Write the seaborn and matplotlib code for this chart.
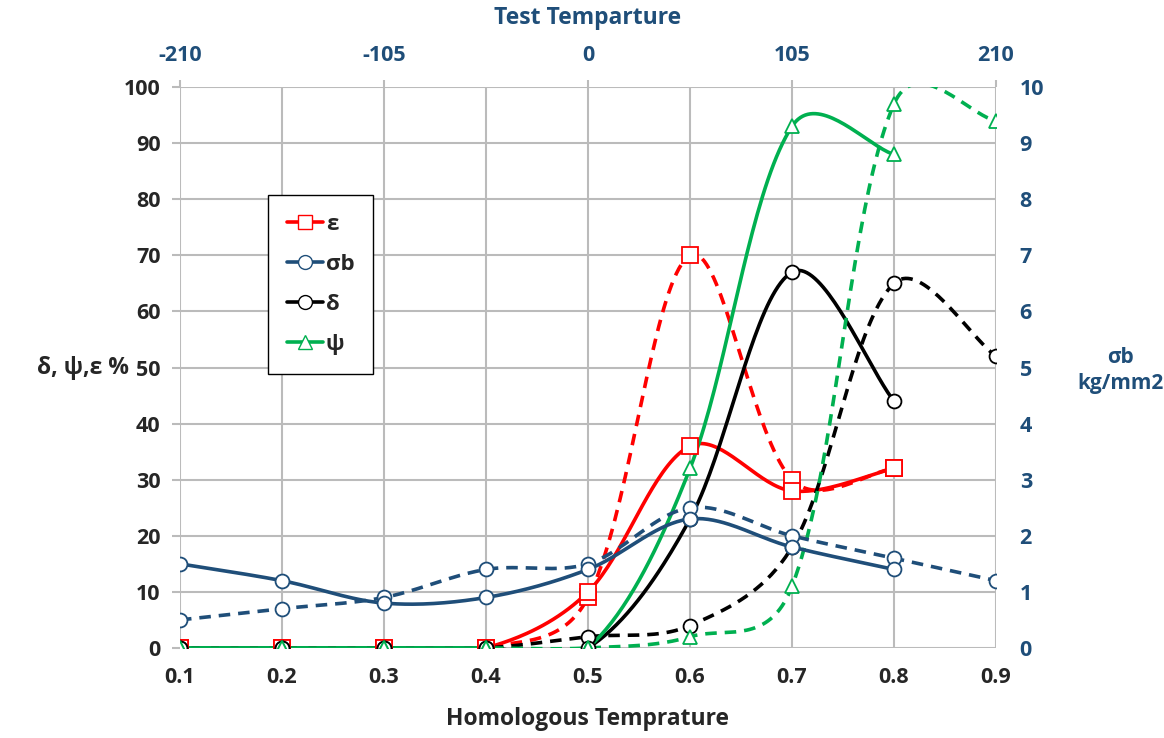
import numpy as np
import matplotlib
matplotlib.use("Agg")
import matplotlib.pyplot as plt
import seaborn as sns
from matplotlib.lines import Line2D

# data
homologous = [0.1, 0.2, 0.3, 0.4, 0.5, 0.6, 0.7, 0.8, 0.9]
top_ticks = [0.1, 0.3, 0.5, 0.7, 0.9]
top_labels = ["-210", "-105", "0", "105", "210"]

eps_solid = [0, 0, 0, 0, 10, 36, 28, 32]
eps_dash = [0, 0, 0, 0, 9, 70, 30, 32]
sigma_solid = [1.5, 1.2, 0.8, 0.9, 1.4, 2.3, 1.8, 1.4]        # kg/mm2 (right axis)
sigma_dash = [0.5, 0.7, 0.9, 1.4, 1.5, 2.5, 2.0, 1.6, 1.2]
delta_solid = [0, 0, 0, 0, 0, 23, 67, 44]
delta_dash = [0, 0, 0, 0, 2, 4, 18, 65, 52]
psi_solid = [0, 0, 0, 0, 0, 32, 93, 88]
psi_dash = [0, 0, 0, 0, 0, 2, 11, 97, 94]

RED = "#FF0000"
BLUE = "#1F4E79"
GREEN = "#00B050"


def smooth(x, y, ky, n=40):
    # Excel-like smoothed line: Bezier, arms scaled by neighbouring segment lengths
    kx = 1020.0
    x = np.asarray(x, float)
    y = np.asarray(y, float)
    px = np.concatenate([[x[0]], x, [x[-1]]]) * kx
    py = np.concatenate([[y[0]], y, [y[-1]]]) * ky
    P = np.column_stack([px, py])
    d = np.r_[np.hypot(np.diff(px), np.diff(py)), 0]
    t = np.linspace(0, 1, n)[:, None]
    out = []
    for i in range(1, len(P) - 2):
        p0, p3 = P[i], P[i + 1]
        s1 = d[i - 1] + d[i]
        s2 = d[i] + d[i + 1]
        f1 = (1 + 2 * d[i] / s1) / 2 if s1 > 0 else 1
        f2 = (1 + 2 * d[i] / s2) / 2 if s2 > 0 else 1
        p1 = p0 + (P[i + 1] - P[i - 1]) / 6 * f1
        p2 = p3 - (P[i + 2] - P[i]) / 6 * f2
        b = (1 - t) ** 3 * p0 + 3 * (1 - t) ** 2 * t * p1 + 3 * (1 - t) * t ** 2 * p2 + t ** 3 * p3
        out.append(b)
    b = np.vstack(out)
    return b[:, 0] / kx, b[:, 1] / ky


sns.set_style("white")
plt.rcParams["font.family"] = ["Open Sans", "DejaVu Sans"]
plt.rcParams["font.weight"] = "bold"

fig = plt.figure(figsize=(11.64, 7.38), dpi=100)
ax = fig.add_axes([0.1546, 0.122, 0.7011, 0.760])
ax2 = ax.twinx()


def draw(axis, y, color, marker, dashed, ky):
    xv = homologous[:len(y)]
    sx, sy = smooth(xv, y, ky)
    ls = (0, (3.2, 2.2)) if dashed else "-"
    sns.lineplot(x=sx, y=sy, ax=axis, color=color, lw=2.6, linestyle=ls,
                 sort=False, estimator=None, legend=False)
    axis.plot(xv, y, linestyle="none", marker=marker, ms=10 if marker != "s" else 11,
              mfc="white", mec=color, mew=1.3, zorder=5)


L, R = 5.61, 56.1
draw(ax, eps_dash, RED, "s", True, L)
draw(ax, eps_solid, RED, "s", False, L)
draw(ax2, sigma_dash, BLUE, "o", True, R)
draw(ax2, sigma_solid, BLUE, "o", False, R)
draw(ax, delta_dash, "black", "o", True, L)
draw(ax, delta_solid, "black", "o", False, L)
draw(ax, psi_dash, GREEN, "^", True, L)
draw(ax, psi_solid, GREEN, "^", False, L)

ax.set_xlim(0.1, 0.9)
ax.set_ylim(0, 100)
ax2.set_ylim(0, 10)
ax.set_xticks(homologous)
ax.set_xticklabels([f"{v:.1f}" for v in homologous])
ax.set_yticks(range(0, 101, 10))
ax2.set_yticks(range(0, 11))
ax.grid(True, color="#BBBBBB", lw=1.5)
ax.set_axisbelow(True)
for a in (ax, ax2):
    for s in a.spines.values():
        s.set_visible(False)
ax.tick_params(axis="both", labelsize=15.5, length=6, width=1.5, color="#BBBBBB", pad=8)
ax2.tick_params(axis="y", labelsize=15.5, length=0, pad=17, labelcolor=BLUE)

ax.set_xlabel("Homologous Temprature", fontsize=16.5, fontweight="bold", va="center")
ax.xaxis.set_label_coords(0.5, -0.127)
ax.set_ylabel("δ, ψ,ε %", fontsize=16.5, fontweight="bold", rotation=0,
              va="center", ha="center")
ax.yaxis.set_label_coords(-0.119, 0.50)
ax2.set_ylabel("σb\nkg/mm2", fontsize=15, fontweight="bold", rotation=0, color=BLUE,
               va="center", ha="center", linespacing=1.35)
ax2.yaxis.set_label_coords(1.152, 0.495)

top = ax.secondary_xaxis("top")
top.set_xticks(top_ticks)
top.set_xticklabels(top_labels)
top.tick_params(labelsize=15.5, length=5, width=1.5, color="#BBBBBB", pad=10, labelcolor=BLUE)
top.set_xlabel("Test Temparture", fontsize=16.5, fontweight="bold", color=BLUE, va="center")
top.xaxis.set_label_coords(0.5, 1.123, transform=ax.transAxes)
top.spines["top"].set_visible(False)

handles = [
    Line2D([], [], color=RED, lw=2.6, marker="s", ms=10, mfc="white", mec=RED),
    Line2D([], [], color=BLUE, lw=2.6, marker="o", ms=10, mfc="white", mec=BLUE),
    Line2D([], [], color="black", lw=2.6, marker="o", ms=10, mfc="white", mec="black"),
    Line2D([], [], color=GREEN, lw=2.6, marker="^", ms=10, mfc="white", mec=GREEN),
]
leg = ax.legend(handles, ["ε", "σb", "δ", "ψ"], loc="upper left",
                bbox_to_anchor=(0.108, 0.807), frameon=True, fancybox=False,
                edgecolor="black", framealpha=1, prop={"size": 16, "weight": "bold"},
                handlelength=1.6, labelspacing=0.85, borderpad=0.85, handletextpad=0.15,
                borderaxespad=0)
leg.get_frame().set_linewidth(1.0)
leg.set_zorder(10)

fig.savefig("out.png", dpi=100)
